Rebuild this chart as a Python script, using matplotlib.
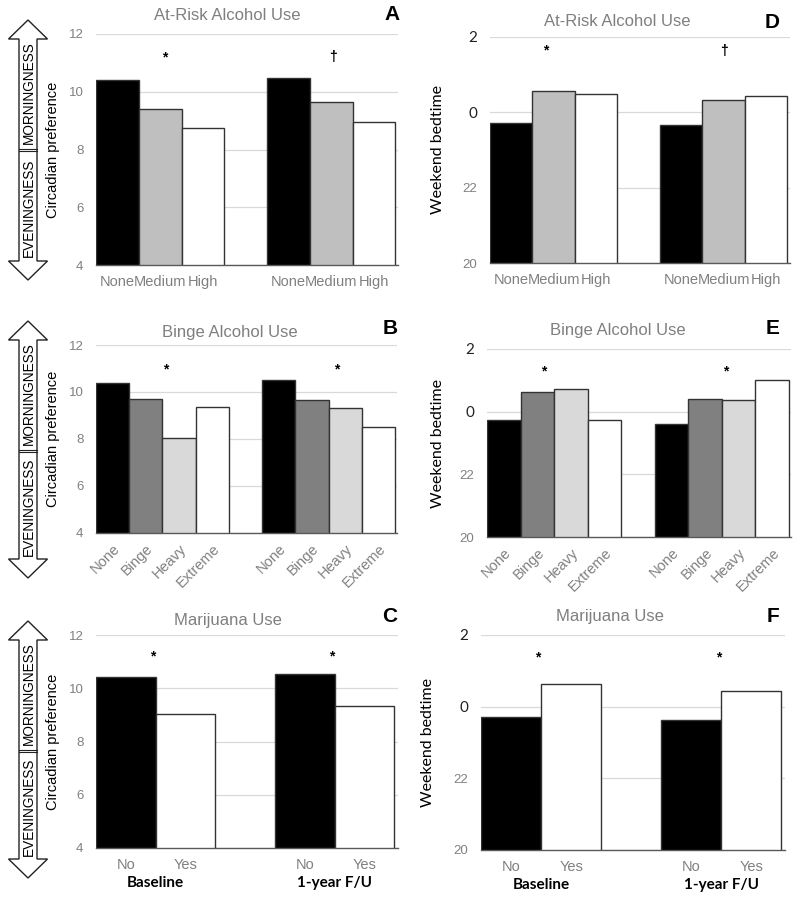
import numpy as np
import matplotlib.pyplot as plt
from matplotlib.patches import Polygon
from matplotlib.transforms import blended_transform_factory

plt.rcParams['font.family'] = ['Liberation Sans', 'DejaVu Sans']

# At-risk alcohol use (panels A, D)
risk_cats = ['None', 'Medium', 'High']
risk_pref_base = [10.41, 9.40, 8.73]
risk_pref_fu = [10.49, 9.63, 8.94]
risk_bed_base = [23.73, 24.57, 24.50]
risk_bed_fu = [23.66, 24.32, 24.44]

# binge alcohol use (panels B, E)
binge_cats = ['None', 'Binge', 'Heavy', 'Extreme']
binge_pref_base = [10.37, 9.69, 8.06, 9.35]
binge_pref_fu = [10.50, 9.65, 9.32, 8.53]
binge_bed_base = [23.72, 24.62, 24.73, 23.72]
binge_bed_fu = [23.62, 24.40, 24.37, 25.00]

# marijuana use (panels C, F)
mj_cats = ['No', 'Yes']
mj_pref_base = [10.43, 9.05]
mj_pref_fu = [10.53, 9.33]
mj_bed_base = [23.72, 24.62]
mj_bed_fu = [23.63, 24.44]

waves = ['Baseline', '1-year F/U']
pref_ticks = [4, 6, 8, 10, 12]
bed_ticks = [20, 22, 24, 26]          # clock hours, 24 = midnight
bed_ticklabels = ['20', '22', '0', '2']

# significance marks: (x position, y value, symbol)
sig_A = [(1.1, 11.2, '*'), (5.05, 11.2, '\u2020')]
sig_D = [(0.8, 25.63, '*'), (5.0, 25.63, '\u2020')]
sig_B = [(1.6, 10.98, '*'), (6.75, 10.98, '*')]
sig_E = [(1.2, 25.29, '*'), (6.6, 25.29, '*')]
sig_C = [(0.45, 11.18, '*'), (3.45, 11.18, '*')]
sig_F = [(0.45, 25.38, '*'), (3.45, 25.38, '*')]

risk_colors = ['black', '#bfbfbf', 'white']
binge_colors = ['black', '#808080', '#d9d9d9', 'white']
mj_colors = ['black', 'white']

W, H = 800, 901
fig = plt.figure(figsize=(W / 100, H / 100), dpi=100)

# overlay in pixel coords for titles, letters and arrows
ov = fig.add_axes([0, 0, 1, 1])
ov.set_xlim(0, W)
ov.set_ylim(H, 0)
ov.axis('off')


def px_axes(x0, y0, x1, y1):
    return fig.add_axes([x0 / W, 1 - y1 / H, (x1 - x0) / W, (y1 - y0) / H])


def panel(box, cats, base, fu, colors, kind, sig, title, tpos, letter, lpos,
          ylab_x, rotate=False, groups=False):
    ax = px_axes(*box)
    n = len(cats)
    xs = list(range(n)) + list(range(n + 1, 2 * n + 1))
    vals = list(base) + list(fu)
    cols = list(colors) * 2
    ax.bar(xs, vals, width=1.0, color=cols, edgecolor='#333333',
           linewidth=1.0, zorder=3)
    ax.set_xlim(-0.5, 2 * n + 0.56)
    if kind == 'pref':
        ax.set_ylim(4, 12)
        ax.set_yticks(pref_ticks)
        ax.set_ylabel('Circadian preference', fontsize=10.5, color='black')
    else:
        ax.set_ylim(20, 26)
        ax.set_yticks(bed_ticks, bed_ticklabels)
        ax.set_ylabel('Weekend bedtime', fontsize=11.5, color='black',
                      family='Lato')
    ax.yaxis.set_label_coords(ylab_x, 0.5)
    ax.grid(axis='y', color='#d9d9d9', linewidth=0.9, zorder=0)
    ax.set_axisbelow(True)
    for s in ['top', 'right', 'left']:
        ax.spines[s].set_visible(False)
    ax.spines['bottom'].set_color('#595959')
    ax.spines['bottom'].set_linewidth(1.0)
    ax.spines['bottom'].set_zorder(4)
    ax.tick_params(axis='y', length=0, pad=9, labelsize=9.5, labelcolor='#808080')
    ax.tick_params(axis='x', length=0, labelsize=10.5, labelcolor='#808080')
    if kind == 'bed':
        for t in ax.get_yticklabels():
            if t.get_text() in ('0', '2'):
                t.set_color('#222222')
                t.set_family('Lato')
                t.set_fontsize(11)
    if rotate:
        ax.set_xticks(xs, cats * 2, rotation=45, ha='right',
                      rotation_mode='anchor')
        ax.tick_params(axis='x', pad=6)
    else:
        ax.set_xticks(xs, cats * 2)
        ax.tick_params(axis='x', pad=7)
    for x, y, s in sig:
        ax.text(x, y, s, ha='center', va='center', fontsize=10,
                fontweight='bold', color='black')
    if groups:
        tr = blended_transform_factory(ax.transData, ax.transAxes)
        for g, gx in zip(waves, [(n - 1) / 2, n + 1 + (n - 1) / 2]):
            ax.text(gx, -0.165, g, transform=tr, ha='center', va='center',
                    fontsize=11, fontweight='bold', family='Lato')
    ov.text(tpos[0], tpos[1], title, ha='center', va='center', fontsize=12,
            color='#7f7f7f')
    ov.text(lpos[0], lpos[1], letter, ha='center', va='center', fontsize=15,
            fontweight='bold', color='black')
    return ax


panel((96, 34, 398, 265), risk_cats, risk_pref_base, risk_pref_fu, risk_colors,
      'pref', sig_A, 'At-Risk Alcohol Use', (227, 15), 'A', (392, 15), -0.119)
panel((490, 37, 790, 263), risk_cats, risk_bed_base, risk_bed_fu, risk_colors,
      'bed', sig_D, 'At-Risk Alcohol Use', (617, 22), 'D', (772, 22), -0.15)
panel((96, 345, 397, 533), binge_cats, binge_pref_base, binge_pref_fu,
      binge_colors, 'pref', sig_B, 'Binge Alcohol Use', (230, 333), 'B',
      (390, 328), -0.119, rotate=True)
panel((487, 349, 791, 537), binge_cats, binge_bed_base, binge_bed_fu,
      binge_colors, 'bed', sig_E, 'Binge Alcohol Use', (618, 330), 'E',
      (773, 328), -0.138, rotate=True)
panel((96, 635, 398, 848), mj_cats, mj_pref_base, mj_pref_fu, mj_colors,
      'pref', sig_C, 'Marijuana Use', (228, 621), 'C', (390, 617), -0.119,
      groups=True)
panel((481, 635, 785, 850), mj_cats, mj_bed_base, mj_bed_fu, mj_colors,
      'bed', sig_F, 'Marijuana Use', (610, 617), 'F', (773, 617), -0.151,
      groups=True)


def morning_arrow(top, bottom, mid, cx=28, shaft=18, head=39, hl=19):
    s, h = shaft / 2, head / 2
    pts = [(cx, top), (cx + h, top + hl), (cx + s, top + hl),
           (cx + s, bottom - hl), (cx + h, bottom - hl), (cx, bottom),
           (cx - h, bottom - hl), (cx - s, bottom - hl), (cx - s, top + hl),
           (cx - h, top + hl)]
    ov.add_patch(Polygon(pts, closed=True, facecolor='white',
                         edgecolor='#222222', linewidth=1.0))
    for dy in (-1.2, 1.2):
        ov.plot([cx - s, cx + s], [mid + dy, mid + dy], color='#222222', lw=0.8)
    ov.text(cx + 0.5, (top + hl + mid) / 2 - 2, 'MORNINGNESS', rotation=90,
            ha='center', va='center', fontsize=9.8, color='black')
    ov.text(cx + 0.5, (mid + bottom - hl) / 2 + 2, 'EVENINGNESS', rotation=90,
            ha='center', va='center', fontsize=9.8, color='black')


morning_arrow(20, 280, 150)
morning_arrow(321, 578, 451)
morning_arrow(621, 878, 751)

fig.savefig('out.png', dpi=100)
